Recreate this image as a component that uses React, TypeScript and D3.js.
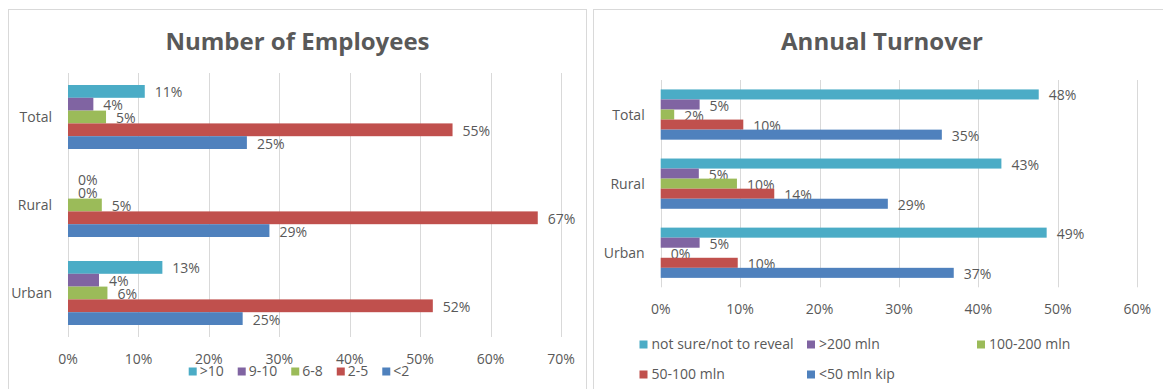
import React, { useEffect, useRef } from "react";
import * as d3 from "d3";

// ---------- data ----------
const categories = ["Total", "Rural", "Urban"];

const employeeSeries = [">10", "9-10", "6-8", "2-5", "<2"];
const empOver10 = [0.109, 0, 0.134];
const emp9to10 = [0.036, 0, 0.044];
const emp6to8 = [0.054, 0.048, 0.056];
const emp2to5 = [0.546, 0.667, 0.518];
const empUnder2 = [0.254, 0.286, 0.248];
const employeeValues = [empOver10, emp9to10, emp6to8, emp2to5, empUnder2];

const turnoverSeries = ["not sure/not to reveal", ">200 mln", "100-200 mln", "50-100 mln", "<50 mln kip"];
const toNotSure = [0.476, 0.429, 0.486];
const toOver200 = [0.049, 0.048, 0.049];
const to100to200 = [0.017, 0.096, 0];
const to50to100 = [0.104, 0.143, 0.097];
const toUnder50 = [0.354, 0.286, 0.369];
const turnoverValues = [toNotSure, toOver200, to100to200, to50to100, toUnder50];

const seriesColors = ["#4BACC6", "#8064A2", "#9BBB59", "#C0504D", "#4F81BD"];

const employeeTicks = [0, 0.1, 0.2, 0.3, 0.4, 0.5, 0.6, 0.7];
const turnoverTicks = [0, 0.1, 0.2, 0.3, 0.4, 0.5, 0.6];

const FONT = "'Open Sans', 'DejaVu Sans', sans-serif";
const TEXT = "#595959";
const GRID = "#d9d9d9";

type PanelOpts = {
  left: number;
  width: number;
  title: string;
  titleX: number;
  series: string[];
  values: number[][];
  ticks: number[];
  plotX0: number;
  plotX1: number;
  plotY0: number;
  plotY1: number;
  legend: "flow" | "grid";
};

function drawPanel(svg: any, o: PanelOpts) {
  const g = svg.append("g");
  g.append("rect")
    .attr("x", o.left + 0.5)
    .attr("y", 9.5)
    .attr("width", o.width)
    .attr("height", 420)
    .attr("fill", "#ffffff")
    .attr("stroke", GRID)
    .attr("stroke-width", 1);

  g.append("text")
    .attr("x", o.titleX)
    .attr("y", 50)
    .attr("text-anchor", "middle")
    .attr("font-family", FONT)
    .attr("font-weight", 700)
    .attr("font-size", 24)
    .attr("fill", TEXT)
    .text(o.title);

  const xMax = o.ticks[o.ticks.length - 1];
  const x = d3.scaleLinear().domain([0, xMax]).range([o.plotX0, o.plotX1]);
  const y = d3
    .scaleBand<string>()
    .domain(categories)
    .range([o.plotY0, o.plotY1])
    .paddingInner(0.2727)
    .paddingOuter(0.1364);
  const ys = d3.scaleBand<string>().domain(o.series).range([0, y.bandwidth()]);
  const fmt = d3.format(".0%");

  // gridlines
  g.selectAll("line.grid")
    .data(o.ticks)
    .enter()
    .append("line")
    .attr("x1", (d: number) => Math.round(x(d)) + 0.5)
    .attr("x2", (d: number) => Math.round(x(d)) + 0.5)
    .attr("y1", o.plotY0)
    .attr("y2", o.plotY1)
    .attr("stroke", GRID)
    .attr("stroke-width", 1);

  // tick labels
  g.selectAll("text.tick")
    .data(o.ticks)
    .enter()
    .append("text")
    .attr("x", (d: number) => x(d))
    .attr("y", o.plotY1 + 26.5)
    .attr("text-anchor", "middle")
    .attr("font-family", FONT)
    .attr("font-size", 14)
    .attr("fill", TEXT)
    .text((d: number) => fmt(d));

  // category labels
  g.selectAll("text.cat")
    .data(categories)
    .enter()
    .append("text")
    .attr("x", o.plotX0 - 16)
    .attr("y", (d: string) => (y(d) as number) + y.bandwidth() / 2 + 5)
    .attr("text-anchor", "end")
    .attr("font-family", FONT)
    .attr("font-size", 14)
    .attr("fill", TEXT)
    .text((d: string) => d);

  // bars + labels
  o.series.forEach((s, si) => {
    const vals = o.values[si];
    categories.forEach((c, ci) => {
      const v = vals[ci];
      const by = (y(c) as number) + (ys(s) as number);
      const bh = ys.bandwidth();
      g.append("rect")
        .attr("x", x(0))
        .attr("y", by)
        .attr("width", x(v) - x(0))
        .attr("height", bh)
        .attr("fill", seriesColors[si]);
      g.append("text")
        .attr("x", x(v) + 10)
        .attr("y", by + bh / 2 + 6)
        .attr("font-family", FONT)
        .attr("font-size", 14)
        .attr("fill", TEXT)
        .text(fmt(v));
    });
  });

  // legend
  if (o.legend === "flow") {
    const lg = g.append("g");
    let cx = 0;
    o.series.forEach((s, si) => {
      lg.append("rect")
        .attr("x", cx)
        .attr("y", 367.5)
        .attr("width", 8)
        .attr("height", 8)
        .attr("fill", seriesColors[si]);
      const t = lg
        .append("text")
        .attr("x", cx + 11)
        .attr("y", 376)
        .attr("font-family", FONT)
        .attr("font-size", 14)
        .attr("fill", TEXT)
        .text(s);
      const w = (t.node() as SVGTextElement).getComputedTextLength();
      cx += 11 + w + (si < o.series.length - 1 ? 14 : 0);
    });
    lg.attr("transform", `translate(${299 - cx / 2},0)`);
  } else {
    const colX = [639.5, 807, 977];
    const rowY = [340.5, 370.5];
    o.series.forEach((s, si) => {
      const col = si % 3;
      const row = Math.floor(si / 3);
      g.append("rect")
        .attr("x", colX[col])
        .attr("y", rowY[row])
        .attr("width", 8)
        .attr("height", 8)
        .attr("fill", seriesColors[si]);
      g.append("text")
        .attr("x", colX[col] + 12)
        .attr("y", rowY[row] + 8.8)
        .attr("font-family", FONT)
        .attr("font-size", 14)
        .attr("fill", TEXT)
        .text(s);
    });
  }
}

export default function App() {
  const ref = useRef<SVGSVGElement | null>(null);

  useEffect(() => {
    document.body.style.margin = "0";
    const svg = d3.select(ref.current);
    svg.selectAll("*").remove();
    svg.append("rect").attr("width", 1163).attr("height", 389).attr("fill", "#ffffff");

    drawPanel(svg, {
      left: 8,
      width: 578,
      title: "Number of Employees",
      titleX: 297.5,
      series: employeeSeries,
      values: employeeValues,
      ticks: employeeTicks,
      plotX0: 68,
      plotX1: 561,
      plotY0: 73,
      plotY1: 337,
      legend: "flow",
    });

    drawPanel(svg, {
      left: 593,
      width: 580,
      title: "Annual Turnover",
      titleX: 882,
      series: turnoverSeries,
      values: turnoverValues,
      ticks: turnoverTicks,
      plotX0: 660.7,
      plotX1: 1137.2,
      plotY0: 80,
      plotY1: 287.3,
      legend: "grid",
    });
  }, []);

  return <svg ref={ref} width={1163} height={389} style={{ display: "block" }} />;
}
